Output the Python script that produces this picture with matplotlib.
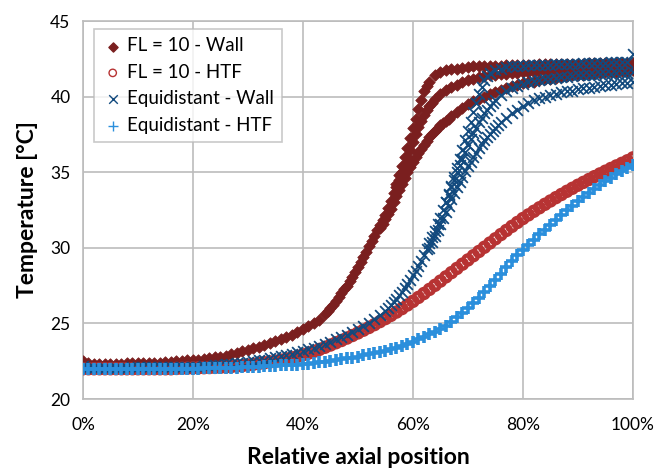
import numpy as np
import matplotlib
matplotlib.use("Agg")
import matplotlib.pyplot as plt
from matplotlib.ticker import PercentFormatter

plt.rcParams['font.family'] = ['Lato', 'DejaVu Sans']

# relative axial position in %, one sample per percent
pos = np.arange(0, 101)

fl_wall = [22.5, 22.35, 22.3, 22.3, 22.3, 22.3, 22.3, 22.3, 22.35, 22.35,
           22.35, 22.35, 22.4, 22.4, 22.4, 22.45, 22.45, 22.5, 22.5, 22.55,
           22.6, 22.6, 22.65, 22.7, 22.75, 22.8, 22.85, 22.95, 23.05, 23.15,
           23.25, 23.35, 23.45, 23.55, 23.7, 23.85, 23.95, 24.1, 24.25, 24.45,
           24.6, 24.8, 25.0, 25.2, 25.6, 26.0, 26.5, 27.0, 27.5, 28.1,
           28.7, 29.4, 30.1, 30.8, 31.5, 32.2, 33.1, 34.2, 35.4, 36.6,
           37.9, 39.2, 40.4, 41.0, 41.4, 41.65, 41.75, 41.8, 41.85, 41.9,
           41.95, 42.0, 42.0, 42.05, 42.05, 42.05, 42.05, 42.1, 42.1, 42.1,
           42.1, 42.1, 42.1, 42.15, 42.15, 42.15, 42.15, 42.15, 42.15, 42.15,
           42.15, 42.15, 42.2, 42.2, 42.2, 42.2, 42.2, 42.2, 42.2, 42.2, 42.2]
# extra samples in the steep part (44.5 % ... 62.5 %)
pos_fl_half = np.arange(44.5, 63, 1)
fl_wall_half = [25.8, 26.25, 26.75, 27.25, 27.8, 28.4, 29.05, 29.75, 30.45, 31.15,
                31.85, 32.65, 33.65, 34.8, 36.0, 37.25, 38.55, 39.8, 40.7]

# slower wall branches of the FL = 10 case
pos_fl_b = np.arange(54, 101)
fl_wall_b = [31.3, 31.9, 32.6, 33.4, 34.2, 35.0, 35.7, 36.3, 36.8, 37.3,
             37.7, 38.1, 38.4, 38.7, 39.0, 39.25, 39.5, 39.7, 39.85, 40.0,
             40.15, 40.3, 40.45, 40.55, 40.7, 40.8, 40.9, 40.95, 41.0, 41.1,
             41.15, 41.2, 41.25, 41.3, 41.35, 41.4, 41.4, 41.45, 41.5, 41.5,
             41.55, 41.6, 41.6, 41.65, 41.7, 41.7, 41.75]
pos_fl_b_half = np.arange(54.5, 67, 1)
fl_wall_b_half = [31.6, 32.25, 33.0, 33.8, 34.6, 35.35, 36.0, 36.55, 37.05, 37.5,
                  37.9, 38.25, 38.55]
pos_fl_m = np.arange(57, 101)
fl_wall_m = [34.0, 35.0, 36.0, 37.0, 38.0, 38.8, 39.4, 39.85, 40.2, 40.45,
             40.65, 40.8, 40.95, 41.1, 41.2, 41.3, 41.35, 41.4, 41.45, 41.5,
             41.52, 41.55, 41.57, 41.6, 41.62, 41.65, 41.67, 41.7, 41.72, 41.75,
             41.77, 41.8, 41.8, 41.82, 41.84, 41.85, 41.86, 41.87, 41.88, 41.88,
             41.89, 41.9, 41.9, 41.9]
pos_fl_m_half = np.arange(57.5, 64, 1)
fl_wall_m_half = [34.5, 35.5, 36.5, 37.5, 38.4, 39.1, 39.6]

fl_htf = [22.0, 22.0, 22.0, 22.0, 22.0, 22.0, 22.0, 22.0, 22.0, 22.0,
          22.0, 22.0, 22.0, 22.0, 22.0, 22.0, 22.0, 22.02, 22.03, 22.04,
          22.05, 22.06, 22.07, 22.08, 22.09, 22.1, 22.12, 22.15, 22.18, 22.21,
          22.25, 22.3, 22.35, 22.4, 22.45, 22.5, 22.57, 22.65, 22.73, 22.82,
          22.92, 23.03, 23.15, 23.28, 23.42, 23.57, 23.72, 23.87, 24.03, 24.2,
          24.37, 24.55, 24.73, 24.92, 25.12, 25.32, 25.53, 25.75, 25.98, 26.22,
          26.46, 26.72, 26.98, 27.25, 27.52, 27.8, 28.08, 28.36, 28.64, 28.92,
          29.2, 29.48, 29.76, 30.04, 30.32, 30.6, 30.88, 31.15, 31.42, 31.68,
          31.94, 32.18, 32.42, 32.65, 32.88, 33.1, 33.32, 33.53, 33.74, 33.94,
          34.14, 34.33, 34.52, 34.71, 34.89, 35.07, 35.25, 35.42, 35.59, 35.76, 35.95]

eq_wall = [22.2, 22.05, 22.05, 22.05, 22.05, 22.05, 22.05, 22.08, 22.08, 22.1,
           22.1, 22.1, 22.1, 22.12, 22.12, 22.12, 22.13, 22.13, 22.14, 22.15,
           22.15, 22.15, 22.2, 22.2, 22.25, 22.25, 22.3, 22.3, 22.35, 22.4,
           22.45, 22.5, 22.55, 22.6, 22.7, 22.75, 22.85, 22.9, 23.0, 23.1,
           23.2, 23.3, 23.4, 23.5, 23.65, 23.8, 23.95, 24.1, 24.25, 24.45,
           24.65, 24.85, 25.05, 25.3, 25.55, 25.8, 26.2, 26.6, 27.1, 27.6,
           28.2, 28.8, 29.5, 30.3, 31.1, 32.0, 33.0, 34.1, 35.3, 36.5,
           37.7, 39.0, 40.2, 41.1, 41.55, 41.75, 41.85, 41.95, 42.0, 42.05,
           42.05, 42.1, 42.1, 42.1, 42.12, 42.12, 42.13, 42.14, 42.15, 42.15,
           42.18, 42.2, 42.2, 42.22, 42.24, 42.25, 42.26, 42.27, 42.28, 42.3, 42.8]
pos_eq_half = np.arange(55.5, 74, 1)
eq_wall_half = [26.0, 26.4, 26.85, 27.35, 27.9, 28.5, 29.15, 29.9, 30.7, 31.55,
                32.5, 33.55, 34.7, 35.9, 37.1, 38.35, 39.6, 40.65, 41.35]

# slower wall branches of the equidistant case
pos_eq_b = np.arange(63, 101)
eq_wall_b = [30.0, 30.8, 31.6, 32.4, 33.2, 34.0, 34.7, 35.4, 36.0, 36.6,
             37.1, 37.5, 37.9, 38.3, 38.6, 38.9, 39.15, 39.4, 39.6, 39.75,
             39.9, 40.0, 40.1, 40.2, 40.3, 40.35, 40.4, 40.5, 40.55, 40.6,
             40.65, 40.7, 40.75, 40.8, 40.85, 40.9, 40.9, 40.95]
pos_eq_b_half = np.arange(63.5, 76, 1)
eq_wall_b_half = [30.4, 31.2, 32.0, 32.8, 33.6, 34.35, 35.05, 35.7, 36.3, 36.85,
                  37.3, 37.7, 38.1]
pos_eq_c = np.arange(66, 101)
eq_wall_c = [33.0, 34.0, 35.0, 35.9, 36.8, 37.6, 38.3, 38.9, 39.4, 39.8,
             40.1, 40.35, 40.55, 40.7, 40.85, 40.95, 41.05, 41.1, 41.15, 41.2,
             41.25, 41.3, 41.33, 41.36, 41.4, 41.42, 41.44, 41.46, 41.48, 41.5,
             41.52, 41.54, 41.56, 41.58, 41.6]
pos_eq_c_half = np.arange(66.5, 75, 1)
eq_wall_c_half = [33.5, 34.5, 35.45, 36.35, 37.2, 37.95, 38.6, 39.15, 39.6]

eq_htf = [22.0, 22.0, 22.0, 22.0, 22.0, 22.0, 22.0, 22.0, 22.0, 22.0,
          22.0, 22.0, 22.0, 22.0, 22.0, 22.0, 22.0, 22.0, 22.0, 22.0,
          22.0, 22.01, 22.02, 22.03, 22.04, 22.05, 22.06, 22.07, 22.08, 22.09,
          22.1, 22.12, 22.14, 22.16, 22.18, 22.2, 22.22, 22.24, 22.26, 22.28,
          22.3, 22.34, 22.38, 22.42, 22.46, 22.5, 22.56, 22.62, 22.68, 22.74,
          22.8, 22.88, 22.96, 23.04, 23.12, 23.2, 23.28, 23.37, 23.48, 23.62,
          23.8, 23.96, 24.12, 24.28, 24.44, 24.6, 24.85, 25.1, 25.4, 25.7,
          26.0, 26.35, 26.7, 27.05, 27.45, 27.9, 28.3, 28.7, 29.1, 29.5,
          29.85, 30.2, 30.55, 30.9, 31.2, 31.5, 31.85, 32.2, 32.5, 32.8,
          33.1, 33.38, 33.65, 33.92, 34.18, 34.42, 34.65, 34.88, 35.1, 35.3, 35.5]

labels = ["FL = 10 - Wall", "FL = 10 - HTF", "Equidistant - Wall", "Equidistant - HTF"]
c_fl_wall = "#7a1f1f"
c_fl_htf = "#b73333"
c_eq_wall = "#124a7e"
c_eq_htf = "#2b8fdc"

fl_x = np.concatenate([pos, pos_fl_half, pos_fl_b, pos_fl_b_half, pos_fl_m, pos_fl_m_half]) / 100
fl_y = fl_wall + fl_wall_half + fl_wall_b + fl_wall_b_half + fl_wall_m + fl_wall_m_half
eq_x = np.concatenate([pos, pos_eq_half, pos_eq_b, pos_eq_b_half, pos_eq_c, pos_eq_c_half]) / 100
eq_y = eq_wall + eq_wall_half + eq_wall_b + eq_wall_b_half + eq_wall_c + eq_wall_c_half

fig = plt.figure(figsize=(6.57, 4.68), dpi=100)
ax = fig.add_axes([0.1263, 0.1474, 0.837, 0.8076])

ax.scatter(fl_x, fl_y, marker='D', s=34, color=c_fl_wall, linewidths=0.6,
           label=labels[0], zorder=3)
ax.scatter(pos / 100, fl_htf, marker='o', s=44, facecolors='none',
           edgecolors=c_fl_htf, linewidths=3.0, label=labels[1], zorder=3)
ax.scatter(eq_x, eq_y, marker='x', s=60, color=c_eq_wall, linewidths=1.3,
           label=labels[2], zorder=3)
ax.scatter(pos / 100, eq_htf, marker='+', s=70, color=c_eq_htf,
           linewidths=2.6, label=labels[3], zorder=3)

ax.set_xlim(0, 1)
ax.set_ylim(20, 45)
ax.set_xticks(np.arange(0, 1.01, 0.2))
ax.set_yticks(np.arange(20, 46, 5))
ax.xaxis.set_major_formatter(PercentFormatter(1.0, decimals=0))
ax.grid(True, color='#bcbcbc', linewidth=1.2)
ax.set_axisbelow(True)
for sp in ax.spines.values():
    sp.set_color('#bcbcbc')
    sp.set_linewidth(1.2)
ax.tick_params(length=0, labelsize=12.5)
ax.tick_params(axis='x', pad=13)
ax.tick_params(axis='y', pad=9)

ax.set_xlabel("Relative axial position", fontsize=16.5, fontweight='bold', labelpad=10)
ax.set_ylabel("Temperature [°C]", fontsize=16.5, fontweight='bold', labelpad=9)

# legend with thin markers so the symbols stay readable
handles, _ = ax.get_legend_handles_labels()
leg = ax.legend(handles, labels, loc='upper left', bbox_to_anchor=(0.02, 0.979), borderaxespad=0,
                fontsize=13.5, frameon=True, fancybox=False, edgecolor='#bcbcbc',
                handletextpad=0.2, labelspacing=0.5, borderpad=0.45, markerscale=0.8,
                handlelength=1.1)
leg.get_frame().set_linewidth(1.2)
for h in leg.legend_handles:
    h.set_linewidth(1.0)

fig.savefig("out.png", dpi=100)
